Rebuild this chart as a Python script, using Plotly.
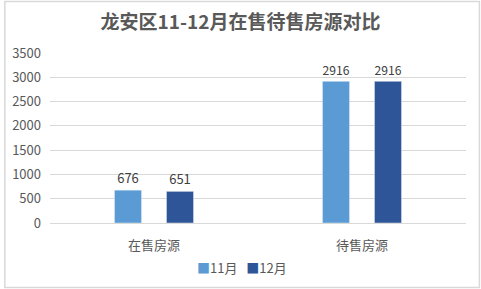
import plotly.graph_objects as go

categories = ["在售房源", "待售房源"]
nov = [676, 2916]
dec = [651, 2916]
series_names = ["11月", "12月"]
colors = ["#5B9BD5", "#2E5597"]
title = "龙安区11-12月在售待售房源对比"

font = "Noto Sans CJK SC"
fig = go.Figure()
for name, vals, col in zip(series_names, [nov, dec], colors):
    fig.add_trace(go.Bar(x=categories, y=vals, name=name, marker_color=col,
                         text=[str(v) for v in vals], textposition="outside",
                         textfont=dict(size=13, color="#404040", family=font), cliponaxis=False))

L, R, T, B = 47, 15, 53, 66
W, H = 481, 289
pw, ph = W - L - R, H - T - B
fig.update_layout(
    width=W, height=H,
    margin=dict(l=L, r=R, t=T, b=B),
    paper_bgcolor="white", plot_bgcolor="white",
    barmode="group", bargap=0.5, bargroupgap=0.48,
    font=dict(family=font, color="#595959", size=12),
    title=dict(text="<b>" + title + "</b>", x=0.5, xanchor="center", y=1 - 22 / H, yanchor="middle",
               font=dict(size=19, color="#595959", family=font)),
    showlegend=False,
)
legend_text = "   ".join(
    f"<span style='color:{c}'>■</span>{n}" for n, c in zip(series_names, colors))
fig.add_annotation(text=legend_text, xref="paper", yref="paper", x=(240 - L) / pw, y=-(267 - 223) / ph,
                   xanchor="center", yanchor="middle", showarrow=False,
                   font=dict(size=13, color="#595959", family=font))
fig.update_yaxes(range=[0, 3500], dtick=500, showgrid=True, gridcolor="#D9D9D9", gridwidth=1,
                 zeroline=False, showline=False, ticks="", tickfont=dict(size=13, color="#595959"),
                 ticklabelstandoff=8)
fig.update_xaxes(showline=True, linecolor="#D9D9D9", linewidth=1, ticks="",
                 tickfont=dict(size=13, color="#595959"), ticklabelstandoff=10)
fig.add_shape(type="rect", xref="paper", yref="paper",
              x0=-(L - 1.5) / pw, x1=1 + (R - 1.5) / pw, y0=-(B - 1.5) / ph, y1=1 + (T - 1.5) / ph,
              line=dict(color="#D9D9D9", width=1.5), fillcolor="rgba(0,0,0,0)", layer="below")
fig.write_html("out.html")
